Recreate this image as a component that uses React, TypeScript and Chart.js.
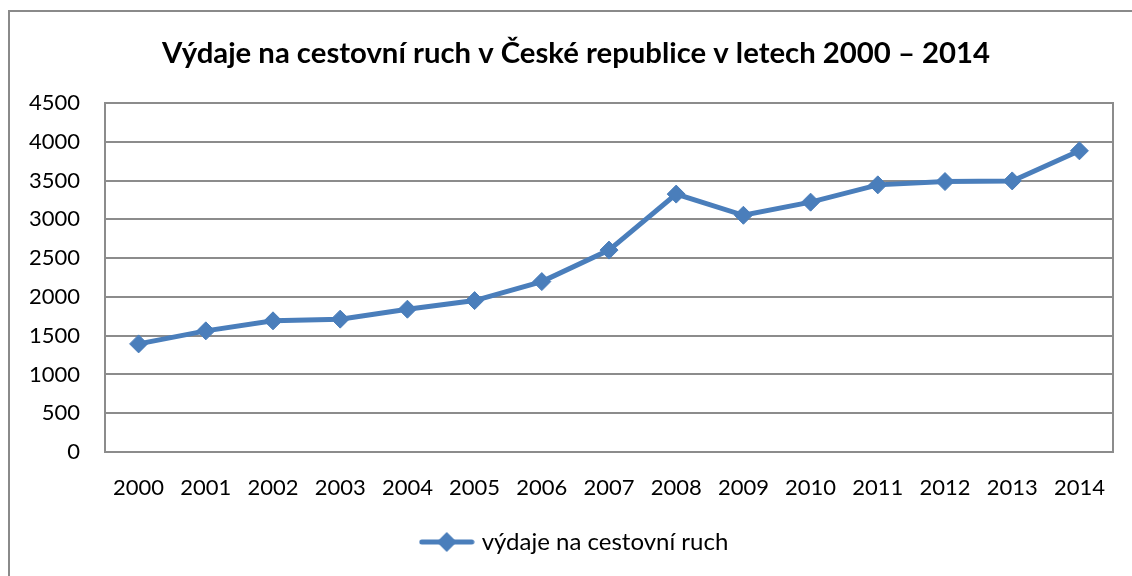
import React, { useEffect, useRef } from "react";
import { Chart, registerables } from "chart.js";

Chart.register(...registerables);

const years = ["2000","2001","2002","2003","2004","2005","2006","2007","2008","2009","2010","2011","2012","2013","2014"];
const spending = [1394, 1562, 1691, 1713, 1841, 1952, 2197, 2603, 3325, 3052, 3221, 3444, 3487, 3495, 3883];
const seriesLabel = "výdaje na cestovní ruch";
const titleText = "Výdaje na cestovní ruch v České republice v letech 2000 – 2014";

const BLUE = "#4A7EBB";
const GRID = "#8c8c8c";
const FONT = "Lato, 'Open Sans', sans-serif";

function makeLegendImage() {
  const c = document.createElement("canvas");
  c.width = 56;
  c.height = 22;
  const ctx = c.getContext("2d")!;
  ctx.strokeStyle = BLUE;
  ctx.lineWidth = 5;
  ctx.lineCap = "round";
  ctx.beginPath();
  ctx.moveTo(3, 11);
  ctx.lineTo(53, 11);
  ctx.stroke();
  ctx.fillStyle = BLUE;
  ctx.beginPath();
  ctx.moveTo(28 - 10, 11);
  ctx.lineTo(28, 1);
  ctx.lineTo(28 + 10, 11);
  ctx.lineTo(28, 21);
  ctx.closePath();
  ctx.fill();
  return c;
}

const framePlugin = {
  id: "frame",
  beforeDraw(chart: any) {
    const ctx = chart.ctx;
    ctx.save();
    ctx.fillStyle = "#ffffff";
    ctx.fillRect(0, 0, chart.width, chart.height);
    ctx.strokeStyle = "#8a8a8a";
    ctx.lineWidth = 2;
    ctx.beginPath();
    ctx.moveTo(9, chart.height + 5);
    ctx.lineTo(9, 11);
    ctx.lineTo(chart.width + 5, 11);
    ctx.stroke();
    ctx.restore();
  },
};

export default function App() {
  const ref = useRef<HTMLCanvasElement | null>(null);

  useEffect(() => {
    if (!ref.current) return;
    const legendImg = makeLegendImage();
    const chart = new Chart(ref.current, {
      type: "line",
      data: {
        labels: years,
        datasets: [
          {
            label: seriesLabel,
            data: spending,
            borderColor: BLUE,
            backgroundColor: BLUE,
            borderWidth: 5,
            pointStyle: "rectRot",
            pointRadius: 9,
            pointBorderWidth: 1,
            pointBackgroundColor: BLUE,
            pointBorderColor: BLUE,
            tension: 0,
            yAxisID: "y",
          },
        ],
      },
      options: {
        responsive: false,
        devicePixelRatio: 1,
        animation: false,
        layout: { padding: { left: 20, right: 0, top: 36, bottom: 12 } },
        scales: {
          x: {
            offset: true,
            grid: { display: false, drawTicks: false },
            border: { display: true, color: GRID, width: 2 },
            ticks: { color: "#000", font: { family: FONT, size: 22 }, padding: 23, maxRotation: 0, autoSkip: false },
            afterFit: (s: any) => { s.height = 68; },
          },
          y: {
            min: 0,
            max: 4500,
            grid: { color: GRID, lineWidth: 2, drawTicks: false },
            border: { display: true, color: GRID, width: 2 },
            ticks: {
              stepSize: 500,
              color: "#000",
              font: { family: FONT, size: 22 },
              padding: 25,
              callback: (v: any) => String(v),
            },
            afterFit: (s: any) => { s.width = 85; },
          },
          yRight: {
            position: "right",
            min: 0,
            max: 4500,
            grid: { display: false, drawTicks: false },
            border: { display: true, color: GRID, width: 2 },
            ticks: { display: false },
            afterFit: (s: any) => { s.width = 19; },
          },
        },
        plugins: {
          title: {
            display: true,
            text: titleText,
            color: "#000",
            font: { family: FONT, size: 29.3, weight: "bold" },
            padding: { top: 0, bottom: 31.8 },
          },
          legend: {
            position: "bottom",
            labels: {
              usePointStyle: true,
              pointStyleWidth: 46,
              color: "#000",
              font: { family: FONT, size: 24 },
              generateLabels: (c: any) => {
                const items = (Chart.defaults.plugins.legend.labels as any).generateLabels(c);
                items.forEach((it: any) => { it.pointStyle = legendImg; });
                return items;
              },
            },
          },
          tooltip: { enabled: false },
        },
      },
      plugins: [framePlugin],
    });
    return () => chart.destroy();
  }, []);

  return (
    <div style={{ position: "fixed", left: 0, top: 0, width: 1132, height: 576, overflow: "hidden", background: "#fff" }}>
      <canvas ref={ref} width={1132} height={576} style={{ display: "block", width: 1132, height: 576 }} />
    </div>
  );
}
